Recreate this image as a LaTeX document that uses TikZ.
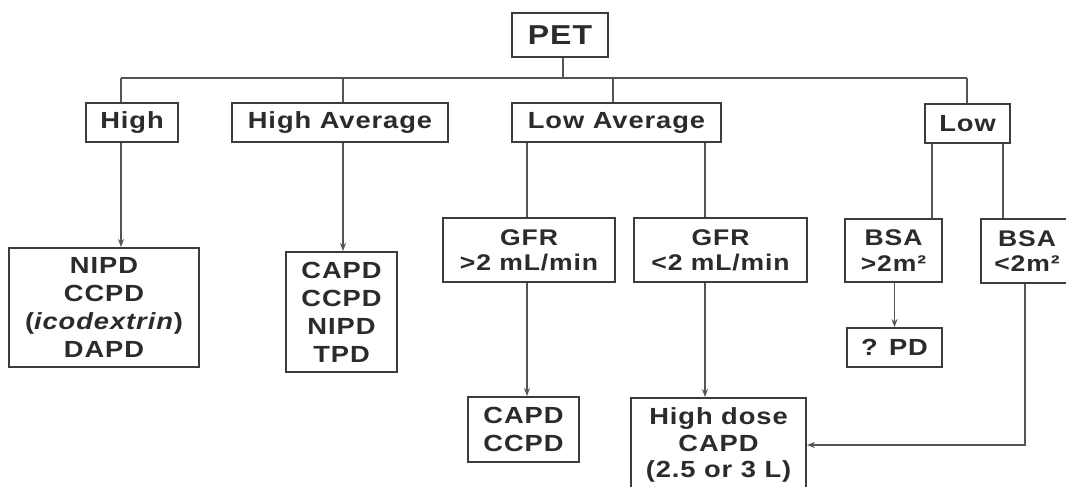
\documentclass[tikz,border=0pt]{standalone}
\usepackage{fontspec}
\setmainfont{Liberation Sans}[FakeStretch=1.17,LetterSpace=4]
\usetikzlibrary{arrows.meta}
\definecolor{inkc}{HTML}{2B2B2B}
\definecolor{framec}{HTML}{3C3C3C}
\definecolor{wirec}{HTML}{555555}
\begin{document}
\begin{tikzpicture}[x=0.75pt,y=0.75pt,yscale=-1,xscale=1,
  pbox/.style={draw=framec,line width=1.5pt,inner sep=0pt,align=center,text=inkc,
    font=\bfseries\fontsize{17.5}{21}\selectfont},
  pboxs/.style={pbox,font=\bfseries\fontsize{17}{19}\selectfont},
  wire/.style={draw=wirec,line width=1.1pt},
  arr/.style={wire,-{Stealth[length=6pt,width=4.5pt]}}]
\path[use as bounding box,clip] (0,0) rectangle (1066,486);
\fill[white] (0,0) rectangle (1066,486);

%Shape: Rectangle [PET]
\node[pbox,minimum width=72pt,minimum height=33pt,font=\bfseries\fontsize{20.5}{22}\selectfont] (pet) at (560,35) {PET};

% Level 1
\node[pbox,minimum width=69pt,minimum height=29.25pt] (high) at (132,122.5) {High};
\node[pbox,minimum width=162pt,minimum height=29.25pt] (highavg) at (340,122.5) {High Average};
\node[pbox,minimum width=156.75pt,minimum height=29.25pt] (lowavg) at (616.5,122.5) {Low Average};
\node[pbox,minimum width=63.75pt,minimum height=29.25pt] (low) at (967.5,123.5) {Low};

% Level 2
\node[pbox,minimum width=142.5pt,minimum height=89.25pt] (nipd) at (104,307.5) {NIPD\\CCPD\\(\textit{icodextrin})\\DAPD};
\node[pbox,minimum width=83.25pt,minimum height=90pt] (capdA) at (341.5,312) {CAPD\\CCPD\\NIPD\\TPD};
\node[pboxs,minimum width=129pt,minimum height=48pt] (gfrhi) at (529,250) {GFR\\>2 mL/min};
\node[pboxs,minimum width=129.75pt,minimum height=48pt] (gfrlo) at (720.5,250) {GFR\\<2 mL/min};
\node[pboxs,minimum width=72.75pt,minimum height=47.25pt] (bsahi) at (893.5,250.5) {BSA\\>2m²};
\node[pboxs,minimum width=69pt,minimum height=48pt] (bsalo) at (1027,251) {BSA\\<2m²};

% Level 3
\node[pbox,minimum width=71.25pt,minimum height=29.25pt] (pd) at (894.5,347.5) {? PD};
\node[pbox,minimum width=83.25pt,minimum height=48.75pt] (capdB) at (523.5,429.5) {CAPD\\CCPD};
\node[pbox,minimum width=131.25pt,minimum height=70.5pt,font=\bfseries\fontsize{17.5}{20}\selectfont] (hidose) at (718.5,445) {High dose\\CAPD\\(2.5 or 3 L)};

%Straight Lines [bus]
\coordinate (busL) at (121,78);
\coordinate (busR) at (967,78);
\coordinate (xpet) at (563,0);
\coordinate (xhavg) at (343,0);
\coordinate (xlavg) at (613,0);
\coordinate (xgfr) at (527,0);
\coordinate (xgfrlo) at (705,0);
\coordinate (xbsahi) at (932,0);
\coordinate (xbsalo) at (1003,0);
\coordinate (xside) at (1025,0);
\draw[wire] (busL) -- (busR);
\draw[wire] (pet.south -| xpet) -- (busL -| xpet);
\draw[wire] (busL) -- (busL |- high.north);
\draw[wire] (busL -| xhavg) -- (highavg.north -| xhavg);
\draw[wire] (busL -| xlavg) -- (lowavg.north -| xlavg);
\draw[wire] (busR) -- (low.north -| busR);

%Arrows down
\draw[arr] (busL |- high.south) -- (busL |- nipd.north);
\draw[arr] (highavg.south -| xhavg) -- (capdA.north -| xhavg);

%Straight Lines [Low Average]
\draw[wire] (lowavg.south -| xgfr) -- (gfrhi.north -| xgfr);
\draw[wire] (lowavg.south -| xgfrlo) -- (gfrlo.north -| xgfrlo);
\draw[arr] (gfrhi.south -| xgfr) -- (capdB.north -| xgfr);
\draw[arr] (gfrlo.south -| xgfrlo) -- (hidose.north -| xgfrlo);

%Straight Lines [Low]
\draw[wire] (low.south -| xbsahi) -- (bsahi.north -| xbsahi);
\draw[wire] (low.south -| xbsalo) -- (bsalo.north -| xbsalo);
\draw[arr] (bsahi.south -| pd.north) -- (pd.north);
\draw[arr] (bsalo.south -| xside) |- (hidose.east);

\end{tikzpicture}
\end{document}
